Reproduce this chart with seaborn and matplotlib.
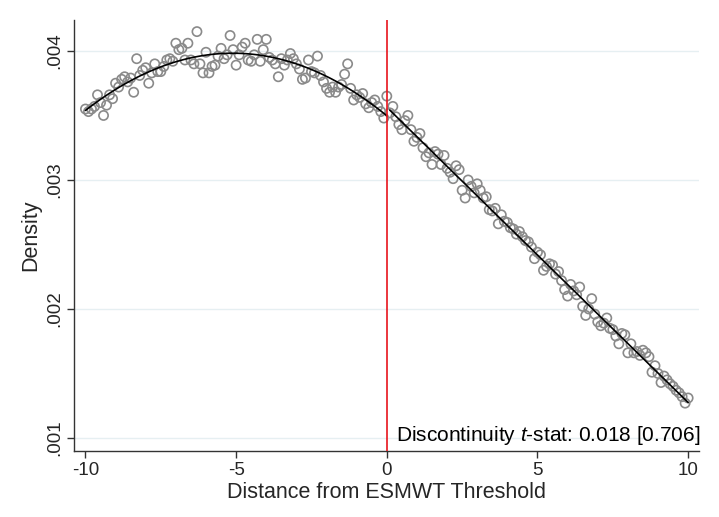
import numpy as np
import pandas as pd
import matplotlib
matplotlib.use("Agg")
import matplotlib.pyplot as plt
import seaborn as sns

# ---- data ----
bin_start, bin_end, bin_step = -10.0, 10.0, 0.1
density_e3 = [
    # -10.0 .. -9.1
    3.55, 3.53, 3.55, 3.57, 3.66, 3.60, 3.50, 3.58, 3.66, 3.63,
    # -9.0 .. -8.1
    3.75, 3.72, 3.78, 3.80, 3.76, 3.79, 3.68, 3.94, 3.81, 3.85,
    # -8.0 .. -7.1
    3.87, 3.75, 3.83, 3.90, 3.84, 3.84, 3.88, 3.93, 3.94, 3.92,
    # -7.0 .. -6.1
    4.06, 4.01, 4.02, 3.93, 4.06, 3.93, 3.90, 4.15, 3.90, 3.83,
    # -6.0 .. -5.1
    3.99, 3.83, 3.88, 3.89, 3.96, 4.02, 3.94, 3.97, 4.12, 4.01,
    # -5.0 .. -4.1
    3.89, 3.97, 4.03, 4.06, 3.93, 3.92, 3.97, 4.09, 3.92, 4.01,
    # -4.0 .. -3.1
    4.09, 3.95, 3.93, 3.90, 3.80, 3.94, 3.89, 3.93, 3.98, 3.94,
    # -3.0 .. -2.1
    3.90, 3.86, 3.78, 3.79, 3.93, 3.84, 3.83, 3.96, 3.81, 3.76,
    # -2.0 .. -1.1
    3.71, 3.68, 3.72, 3.68, 3.72, 3.74, 3.82, 3.90, 3.71, 3.62,
    # -1.0 .. -0.1
    3.66, 3.64, 3.67, 3.59, 3.56, 3.60, 3.62, 3.57, 3.53, 3.48,
    # 0.0
    3.65,
    # 0.1 .. 1.0
    3.52, 3.57, 3.49, 3.43, 3.39, 3.46, 3.50, 3.39, 3.30, 3.33,
    # 1.1 .. 2.0
    3.36, 3.25, 3.18, 3.21, 3.12, 3.22, 3.20, 3.12, 3.19, 3.09,
    # 2.1 .. 3.0
    3.06, 3.01, 3.11, 3.08, 2.92, 2.86, 3.00, 2.95, 2.90, 2.97,
    # 3.1 .. 4.0
    2.92, 2.86, 2.87, 2.77, 2.76, 2.78, 2.66, 2.73, 2.68, 2.67,
    # 4.1 .. 5.0
    2.63, 2.62, 2.58, 2.60, 2.56, 2.53, 2.52, 2.48, 2.39, 2.44,
    # 5.1 .. 6.0
    2.42, 2.30, 2.33, 2.35, 2.34, 2.27, 2.29, 2.22, 2.15, 2.10,
    # 6.1 .. 7.0
    2.19, 2.14, 2.11, 2.17, 2.02, 1.95, 2.00, 2.08, 1.96, 1.90,
    # 7.1 .. 8.0
    1.87, 1.89, 1.93, 1.85, 1.84, 1.79, 1.73, 1.81, 1.80, 1.66,
    # 8.1 .. 9.0
    1.73, 1.66, 1.67, 1.64, 1.68, 1.66, 1.63, 1.51, 1.56, 1.50,
    # 9.1 .. 10.0
    1.43, 1.48, 1.45, 1.42, 1.40, 1.37, 1.35, 1.32, 1.27, 1.31,
]
threshold = 0.0
x_ticks = [-10, -5, 0, 5, 10]
y_ticks = [0.001, 0.002, 0.003, 0.004]
y_tick_labels = [".001", ".002", ".003", ".004"]
annotation = "Discontinuity $\\mathit{t}$-stat: 0.018 [0.706]"
x_label = "Distance from ESMWT Threshold"
y_label = "Density"

n_bins = int(round((bin_end - bin_start) / bin_step)) + 1
bins = np.round(np.linspace(bin_start, bin_end, n_bins), 1)
df = pd.DataFrame({"x": bins, "density": np.array(density_e3) / 1000.0})
left = df[df["x"] <= threshold]
right = df[df["x"] > threshold]

# ---- style ----
sns.set_theme(style="white")
plt.rcParams["font.family"] = ["Liberation Sans", "DejaVu Sans"]
plt.rcParams["mathtext.fontset"] = "custom"
plt.rcParams["mathtext.rm"] = "Liberation Sans"
plt.rcParams["mathtext.it"] = "Liberation Sans:italic"

fig = plt.figure(figsize=(7.19, 5.17), dpi=100)
ax = fig.add_axes([74 / 719, 1 - 451 / 517, (699 - 74) / 719, (451 - 20) / 517])

ax.set_xlim(-10.38, 10.36)
ax.set_ylim(0.000899, 0.00424)

for yt in y_ticks:
    ax.axhline(yt, color="#e6eff2", lw=1.0, zorder=0)

sns.scatterplot(data=df, x="x", y="density", ax=ax, marker="o", s=44,
                facecolors="none", edgecolor="#8a8a8a", linewidth=1.2,
                zorder=2, legend=False)

sns.regplot(data=left, x="x", y="density", order=2, ci=None, scatter=False,
            ax=ax, line_kws={"color": "black", "lw": 1.2, "zorder": 3})
sns.regplot(data=right, x="x", y="density", order=2, ci=None, scatter=False,
            ax=ax, line_kws={"color": "black", "lw": 1.2, "zorder": 3})

ax.axvline(threshold, color="#e8141c", lw=1.2, zorder=4)

ax.set_xticks(x_ticks)
ax.set_xticklabels([str(t) for t in x_ticks], fontsize=13.5)
ax.set_yticks(y_ticks)
ax.set_yticklabels(y_tick_labels, fontsize=13.5, rotation=90, va="center")
ax.tick_params(axis="both", direction="out", length=5, width=1,
               color="#333333", pad=3, left=True, bottom=True)

ax.set_xlabel(x_label, fontsize=15.5, labelpad=2)
ax.set_ylabel(y_label, fontsize=15.5, labelpad=3)

for side in ["top", "right"]:
    ax.spines[side].set_visible(False)
for side in ["left", "bottom"]:
    ax.spines[side].set_color("#333333")
    ax.spines[side].set_linewidth(1.0)

ax.text(1.002, 0.035, annotation, transform=ax.transAxes, ha="right",
        va="center", fontsize=15, color="black", zorder=5)

fig.savefig("out.png", dpi=100, facecolor="white")
